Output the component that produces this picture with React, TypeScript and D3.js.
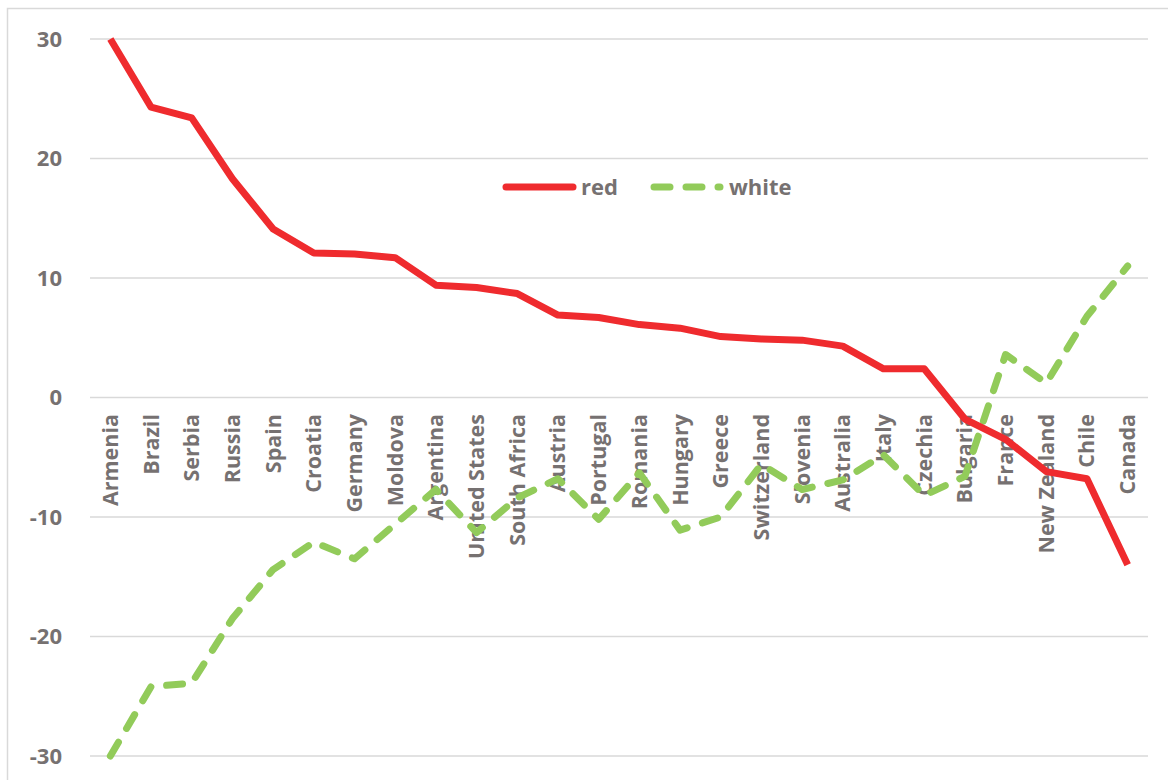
import React, { useEffect, useRef } from 'react'
import * as d3 from 'd3'

const countries = ['Armenia', 'Brazil', 'Serbia', 'Russia', 'Spain', 'Croatia', 'Germany', 'Moldova', 'Argentina', 'United States', 'South Africa', 'Austria', 'Portugal', 'Romania', 'Hungary', 'Greece', 'Switzerland', 'Slovenia', 'Australia', 'Italy', 'Czechia', 'Bulgaria', 'France', 'New Zealand', 'Chile', 'Canada']
const red = [30, 24.3, 23.4, 18.3, 14.1, 12.1, 12.0, 11.7, 9.4, 9.2, 8.7, 6.9, 6.7, 6.1, 5.8, 5.1, 4.9, 4.8, 4.3, 2.4, 2.4, -1.8, -3.5, -6.2, -6.8, -14.0]
const white = [-30, -24.2, -23.9, -18.5, -14.4, -12.1, -13.5, -10.6, -7.7, -11.3, -8.4, -6.8, -10.2, -6.3, -11.1, -10.0, -5.6, -7.7, -6.9, -4.8, -8.2, -6.6, 3.6, 1.2, 6.8, 11.0]
const yTicks = [-30, -20, -10, 0, 10, 20, 30]

const FONT = '"Open Sans", sans-serif'
const GREY = '#767171'

const App = () => {
    const ref = useRef<SVGSVGElement>(null)

    useEffect(() => {
        const svg = d3.select(ref.current)
        svg.selectAll('*').remove()

        const left = 90, right = 1148
        const x = d3.scalePoint().domain(countries).range([left, right]).padding(0.5)
        const y = d3.scaleLinear().domain([-30, 30]).range([756, 39])

        // chart border
        svg.append('rect')
            .attr('x', 7.5).attr('y', 8.5).attr('width', 1200).attr('height', 800)
            .attr('fill', '#fff').attr('stroke', '#d9d9d9').attr('stroke-width', 1.5)

        // grid lines + y labels
        const g = svg.append('g')
        g.selectAll('.grid').data(yTicks).enter().append('line')
            .attr('x1', left).attr('x2', right)
            .attr('y1', d => y(d)).attr('y2', d => y(d))
            .attr('stroke', '#d9d9d9').attr('stroke-width', 1.5)
        g.selectAll('.ylab').data(yTicks).enter().append('text')
            .attr('x', 62).attr('y', d => y(d))
            .attr('dy', '0.35em')
            .attr('text-anchor', 'end')
            .style('font-family', FONT).style('font-weight', 700).style('font-size', '22px')
            .attr('fill', GREY)
            .text(d => d)

        // category labels
        g.selectAll('.xlab').data(countries).enter().append('text')
            .attr('transform', d => 'translate(' + (x(d)! + 7.5) + ',414) rotate(-90)')
            .attr('text-anchor', 'end')
            .style('font-family', FONT).style('font-weight', 700).style('font-size', '21.5px')
            .attr('fill', GREY)
            .text(d => d)

        const line = d3.line<number>()
            .x((d, i) => x(countries[i])!)
            .y(d => y(d))

        svg.append('path').datum(white)
            .attr('d', line)
            .attr('fill', 'none').attr('stroke', '#92cb5a').attr('stroke-width', 7)
            .attr('stroke-dasharray', '16 16').attr('stroke-linecap', 'round').attr('stroke-linejoin', 'round')

        svg.append('path').datum(red)
            .attr('d', line)
            .attr('fill', 'none').attr('stroke', '#ef2b2e').attr('stroke-width', 7)
            .attr('stroke-linejoin', 'round')

        // legend
        const lg = svg.append('g')
        lg.append('line').attr('x1', 506).attr('x2', 573).attr('y1', 187).attr('y2', 187)
            .attr('stroke', '#ef2b2e').attr('stroke-width', 7).attr('stroke-linecap', 'round')
        lg.append('text').attr('x', 581).attr('y', 187).attr('dy', '0.35em')
            .style('font-family', FONT).style('font-weight', 700).style('font-size', '22px')
            .attr('fill', GREY).text('red')
        lg.append('line').attr('x1', 654).attr('x2', 720).attr('y1', 187).attr('y2', 187)
            .attr('stroke', '#92cb5a').attr('stroke-width', 7).attr('stroke-linecap', 'round')
            .attr('stroke-dasharray', '16 16')
        lg.append('text').attr('x', 729).attr('y', 187).attr('dy', '0.35em')
            .style('font-family', FONT).style('font-weight', 700).style('font-size', '22px')
            .attr('fill', GREY).text('white')
    }, [])

    return (
        <div style={{ position: 'absolute', left: 0, top: 0 }}>
            <svg ref={ref} width={1168} height={780} style={{ display: 'block', background: '#fff' }} />
        </div>
    )
}

export default App
